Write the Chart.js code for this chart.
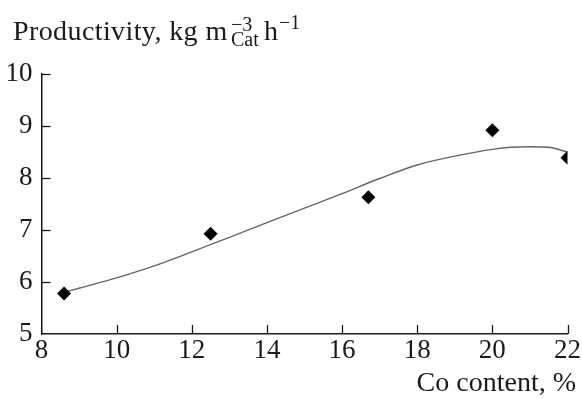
<!DOCTYPE html>
<html>
<head>
<meta charset="utf-8">
<script src="https://cdn.jsdelivr.net/npm/chart.js@4/dist/chart.umd.min.js"></script>
<style>
  html, body { margin: 0; padding: 0; background: #fff; }
  #wrap { position: relative; width: 582px; height: 399px; overflow: hidden; }
  canvas { position: absolute; left: 0; top: 0; }
  .txt { position: absolute; white-space: nowrap; line-height: 0; color: #1a1a1a;
         font-family: "Liberation Serif", "DejaVu Serif", serif; }
</style>
</head>
<body>
<div id="wrap">
  <canvas id="c" width="582" height="399"></canvas>
</div>
<script>
// ---- data ----
const coContent = [8.6, 12.5, 16.7, 20, 22];           // Co content, %
const productivity = [5.78, 6.93, 7.63, 8.92, 8.39];   // kg m-3 h-1
const trendX = [8.6, 9, 10, 11, 12, 13, 14, 15, 16, 17, 18, 19, 20, 20.5, 21, 21.5, 22];
const trendY = [5.80, 5.88, 6.08, 6.31, 6.58, 6.86, 7.14, 7.42, 7.70, 7.99, 8.25, 8.42, 8.55, 8.59, 8.60, 8.59, 8.50];
const xTickValues = [8, 10, 12, 14, 16, 18, 20, 22];
const yTickValues = [5, 6, 7, 8, 9, 10];
const yTitle = ["Productivity, kg m", "\u22123", "Cat", "h", "\u22121"];
const xTitle = "Co content, %";

const FONT = '"Liberation Serif", "DejaVu Serif", serif';
const INK = '#1a1a1a';

// ---- text overlays (real text) ----
const wrap = document.getElementById('wrap');
function place(text, x, baseline, size, alignRight) {
  const s = document.createElement('div');
  s.className = 'txt';
  s.textContent = text;
  s.style.fontSize = size + 'px';
  s.style.top = (baseline - 0.3375 * size) + 'px';
  if (alignRight) s.style.right = x + 'px'; else s.style.left = x + 'px';
  wrap.appendChild(s);
  return s;
}
place(yTitle[0], 13, 40, 28).style.letterSpacing = '0.4px';
place(yTitle[1], 231, 31, 20);
place(yTitle[2], 231, 46, 20);
place(yTitle[3], 264, 40, 28);
place(yTitle[4], 279, 29, 20);
place(xTitle, 6, 391, 28, true);

// ---- inward tick marks drawn from the scales ----
const inwardTicks = {
  id: 'inwardTicks',
  afterDatasetsDraw(chart) {
    const { ctx, chartArea, scales: { x, y } } = chart;
    ctx.save();
    ctx.strokeStyle = INK;
    ctx.lineWidth = 1.3;
    x.ticks.forEach(t => {
      if (t.value === x.min) return;
      const px = Math.round(x.getPixelForValue(t.value)) + 0.5;
      ctx.beginPath();
      ctx.moveTo(px, chartArea.bottom);
      ctx.lineTo(px, chartArea.bottom - 9);
      ctx.stroke();
    });
    y.ticks.forEach(t => {
      if (t.value === y.min) return;
      const py = Math.round(y.getPixelForValue(t.value)) + 0.5;
      ctx.beginPath();
      ctx.moveTo(chartArea.left, py);
      ctx.lineTo(chartArea.left + 9, py);
      ctx.stroke();
    });
    ctx.restore();
  }
};

new Chart(document.getElementById('c'), {
  type: 'scatter',
  data: {
    datasets: [
      {
        label: 'Experimental',
        data: coContent.map((v, i) => ({ x: v, y: productivity[i] })),
        pointStyle: 'rectRot',
        pointRadius: 7,
        pointHoverRadius: 7,
        backgroundColor: '#000',
        borderColor: '#000',
        borderWidth: 0,
        showLine: false
      },
      {
        label: 'Trend',
        data: trendX.map((v, i) => ({ x: v, y: trendY[i] })),
        showLine: true,
        pointRadius: 0,
        borderColor: '#666',
        borderWidth: 1.4,
        tension: 0.4,
        cubicInterpolationMode: 'monotone',
        fill: false
      }
    ]
  },
  options: {
    responsive: false,
    devicePixelRatio: 1,
    animation: false,
    events: [],
    layout: { padding: { top: 74, right: 13, left: 0, bottom: 0 } },
    plugins: { legend: { display: false }, tooltip: { enabled: false }, title: { display: false } },
    scales: {
      x: {
        type: 'linear',
        min: 8, max: 22,
        afterBuildTicks: s => { s.ticks = xTickValues.map(v => ({ value: v })); },
        afterFit: s => { s.height = 65; },
        ticks: { color: INK, font: { family: FONT, size: 27 }, padding: 1, maxRotation: 0 },
        grid: { display: false, drawTicks: false },
        border: { display: true, color: INK, width: 1.5 }
      },
      y: {
        type: 'linear',
        min: 5, max: 10,
        afterBuildTicks: s => { s.ticks = yTickValues.map(v => ({ value: v })); },
        afterFit: s => { s.width = 41.5; },
        ticks: { color: INK, font: { family: FONT, size: 27 }, padding: 9 },
        grid: { display: false, drawTicks: false },
        border: { display: true, color: INK, width: 1.5 }
      }
    }
  },
  plugins: [inwardTicks]
});
</script>
</body>
</html>
